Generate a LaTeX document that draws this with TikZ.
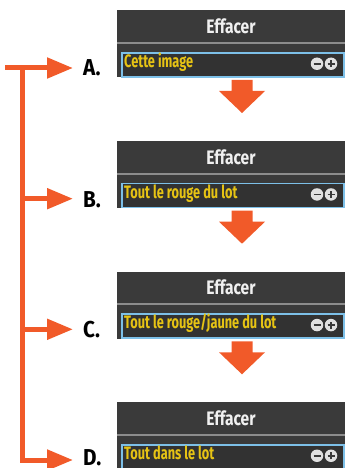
\documentclass[tikz,border=0pt]{standalone}
\usepackage{fontspec}
\setmainfont{Fira Sans}
\newfontfamily\hdrfont[FakeStretch=0.8]{Fira Sans}
\newfontfamily\itemfont[FakeStretch=0.71]{Fira Sans}
\newfontfamily\lblfont[FakeStretch=0.9]{Fira Sans}
\usetikzlibrary{arrows.meta}
\definecolor{orangeA}{RGB}{241,90,41}
\definecolor{paneldark}{RGB}{58,58,58}
\definecolor{itemdark}{RGB}{50,50,50}
\definecolor{itemblue}{RGB}{125,192,232}
\definecolor{itemyellow}{RGB}{230,195,20}
\definecolor{sepgray}{RGB}{140,140,140}
\definecolor{iconfill}{RGB}{225,225,225}
\begin{document}
\begin{tikzpicture}[x=1pt,y=-1pt,
  panel/.style={fill=paneldark, draw=none, anchor=north west, minimum width=228pt, minimum height=67pt, inner sep=0pt},
  hdr/.style={anchor=base, text=white!94!black, font=\hdrfont\bfseries\fontsize{19.5}{20}\selectfont, inner sep=0pt},
  itembox/.style={anchor=north west, fill=itemdark, draw=itemblue, line width=1.8pt, minimum width=222pt, minimum height=24pt, inner sep=0pt},
  itemtxt/.style={anchor=base west, text=itemyellow, font=\itemfont\bfseries\fontsize{18}{18}\selectfont, inner sep=0pt},
  icon/.style={circle, fill=iconfill, minimum size=12.5pt, inner sep=0pt},
  iconmark/.style={draw=paneldark, line width=1.8pt},
  lbl/.style={anchor=base west, font=\lblfont\bfseries\fontsize{23}{23}\selectfont, inner sep=0pt},
  conn/.style={draw=orangeA, line width=5pt, -{Triangle[length=26pt,width=20pt]}, shorten >=10pt},
  bracket/.style={draw=orangeA, line width=5pt},
  downarrow/.style={fill=orangeA}
]
\useasboundingbox (0,0) rectangle (345,468);
\foreach \l/\T/\txt/\lb in {A/10/{Cette image}/76, B/140.7/{Tout le rouge du lot}/207, C/271.3/{Tout le rouge/jaune du lot}/337.5, D/402/{Tout dans le lot}/465}{
  \node[panel] (p\l) at (117,\T) {};
  \node[hdr] (h\l) at (231,\T+23.5) {Effacer};
  \draw[sepgray, line width=2pt] (p\l.west |- 0,\T+33) -- (p\l.east |- 0,\T+33);
  \node[itembox] (i\l) at (120.9,\T+41.9) {};
  \node[itemtxt] (t\l) at (124,\T+57.3) {\txt};
  \node[icon] (m\l) at (317,\T+53.75) {};
  \node[icon] (q\l) at (331,\T+53.75) {};
  \draw[iconmark] ([xshift=-3.5pt]m\l.center) -- ([xshift=3.5pt]m\l.center);
  \draw[iconmark] ([xshift=-3.5pt]q\l.center) -- ([xshift=3.5pt]q\l.center);
  \draw[iconmark] ([yshift=-3.5pt]q\l.center) -- ([yshift=3.5pt]q\l.center);
  \node[lbl] (l\l) at (83,\lb) {\l.};
  \coordinate (j\l) at (22,\T+58);
}
\foreach \T in {10,140.7,271.3}{
  \fill[downarrow] (231.5,\T+70) -- (252.5,\T+70) -- (252.5,\T+81) -- (265,\T+81)
    -- (242,\T+103) -- (219,\T+81) -- (231.5,\T+81) -- cycle;
}
\coordinate (s) at (5,68);
\draw[bracket] (jA) -- (jD);
\draw[conn] (s) -- (lA.west |- s);
\draw[conn] (jB) -- (lB.west |- jB);
\draw[conn] (jC) -- (lC.west |- jC);
\draw[conn, line join=miter] ([yshift=-2.5pt]jA) -- (jD) -- (lD.west |- jD);
\end{tikzpicture}
\end{document}
